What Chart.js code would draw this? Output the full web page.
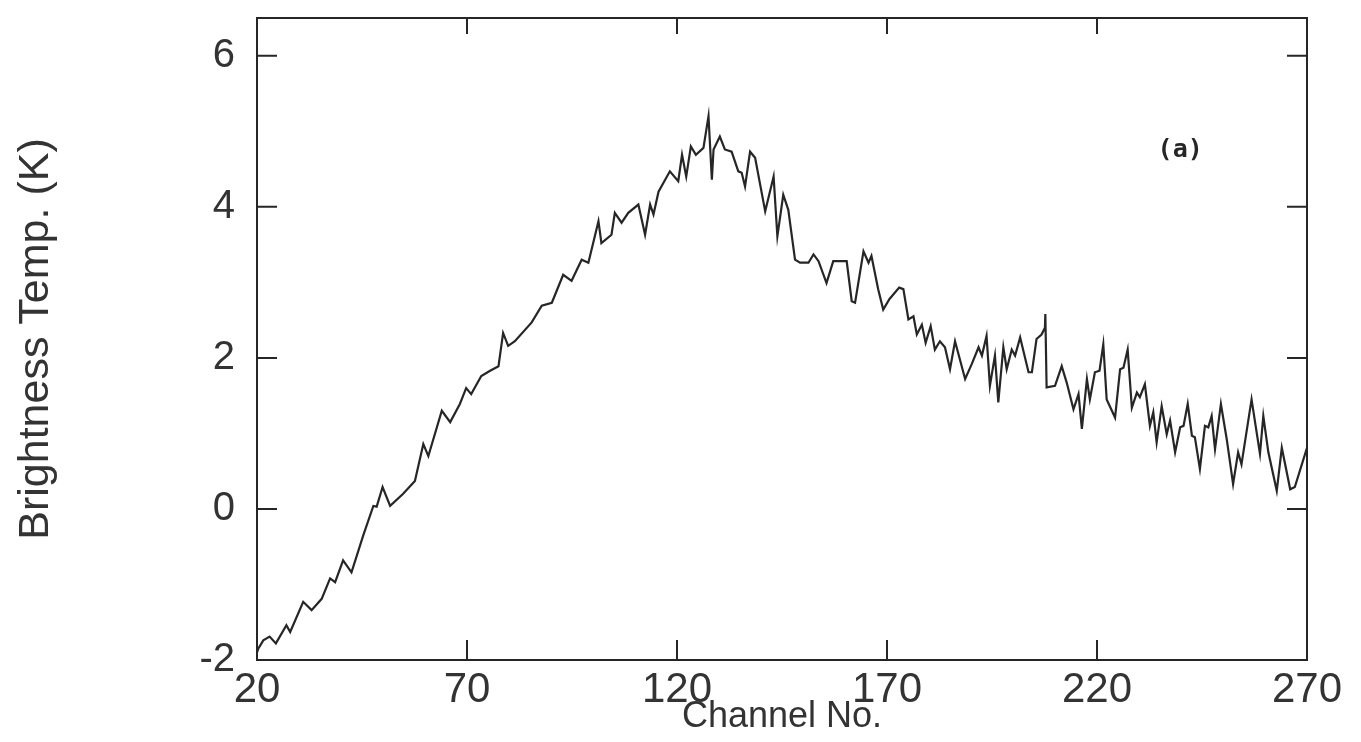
<!DOCTYPE html>
<html>
<head>
<meta charset="utf-8">
<title>Brightness temperature vs channel</title>
<script src="https://cdn.jsdelivr.net/npm/chart.js@4.4.1/dist/chart.umd.min.js"></script>
<style>
  html, body { margin: 0; padding: 0; background: #fff; }
  canvas { display: block; }
</style>
</head>
<body>
<canvas id="spectrumChart" width="1361" height="742"></canvas>
<script>
// channel numbers and brightness temperatures (K)
var channels = [
  20, 20.3, 21.5, 23, 24.5, 27, 27.9, 31, 33, 35.4, 37.4, 38.6, 40.5, 42.5, 45.3, 47.7, 48.5, 49.9, 51.7, 54.8,
  57.6, 59.6, 60.8, 64, 66, 68.3, 69.8, 71, 73.4, 75.5, 77.5, 78.6, 79.8, 81.4, 85.4, 87.8, 90.2, 92.9, 94.9, 97.3,
  98.9, 101.3, 102, 104.4, 105.2, 106.8, 108.4, 110.8, 112.4, 113.6, 114.4, 115.6, 118.3, 120.3, 121.2, 122.2, 123.3, 124.5, 126.3, 127.5,
  128.3, 128.7, 130.2, 131.4, 133, 134.6, 135.4, 136.2, 137.4, 138.6, 141, 143, 143.9, 145.3, 146.5, 148.1, 149.3, 151.3, 152.5, 153.7,
  155.6, 157.2, 160.4, 161.6, 162.4, 164.4, 165.6, 166.3, 167.9, 169.1, 170.6, 172.9, 173.9, 175.1, 176.3, 177.1, 178.3, 179.2, 180.4, 181.4,
  182.6, 183.8, 185, 186.2, 188.6, 190.2, 191.8, 192.6, 193.7, 194.5, 195.7, 196.5, 197.7, 198.5, 199.7, 200.5, 201.7, 203.7, 204.5, 205.6,
  206.8, 207.6, 207.7, 208, 210, 211.6, 212.8, 214.4, 215.6, 216.4, 217.6, 218.3, 219.5, 220.6, 221.5, 222.3, 224.3, 225.5, 226.3, 227.3,
  228.3, 229.5, 230.2, 231.4, 232.6, 233.4, 234.2, 235.4, 236.6, 237.4, 238.6, 239.8, 240.6, 241.6, 242.6, 243.3, 244.5, 245.7, 246.5, 247.3,
  248.1, 249.5, 250.9, 252.4, 253.6, 254.4, 256.8, 258.8, 259.6, 260.8, 262.8, 264, 266, 267.1, 270
];
var temps = [
  -1.9, -1.85, -1.74, -1.69, -1.78, -1.54, -1.63, -1.23, -1.34, -1.19, -0.92, -0.97, -0.68, -0.84, -0.35, 0.04, 0.03, 0.29, 0.04, 0.2,
  0.37, 0.86, 0.7, 1.3, 1.15, 1.39, 1.6, 1.52, 1.76, 1.83, 1.89, 2.33, 2.16, 2.22, 2.47, 2.69, 2.73, 3.1, 3.02, 3.3,
  3.26, 3.81, 3.52, 3.63, 3.92, 3.79, 3.92, 4.03, 3.63, 4.03, 3.9, 4.2, 4.47, 4.34, 4.69, 4.4, 4.8, 4.69, 4.78, 5.2,
  4.36, 4.76, 4.93, 4.76, 4.73, 4.47, 4.45, 4.27, 4.73, 4.65, 3.94, 4.4, 3.61, 4.16, 3.96, 3.3, 3.26, 3.26, 3.37, 3.28,
  2.99, 3.28, 3.28, 2.75, 2.73, 3.41, 3.26, 3.35, 2.91, 2.64, 2.78, 2.93, 2.91, 2.51, 2.55, 2.31, 2.44, 2.2, 2.42, 2.11,
  2.22, 2.14, 1.85, 2.22, 1.72, 1.92, 2.14, 2.03, 2.29, 1.63, 2.03, 1.41, 2.14, 1.85, 2.11, 2.03, 2.27, 1.81, 1.81, 2.25,
  2.31, 2.4, 2.58, 1.61, 1.63, 1.89, 1.67, 1.32, 1.52, 1.06, 1.72, 1.45, 1.81, 1.83, 2.18, 1.45, 1.21, 1.85, 1.87, 2.11,
  1.34, 1.54, 1.48, 1.65, 1.1, 1.28, 0.88, 1.36, 0.99, 1.17, 0.75, 1.08, 1.1, 1.39, 0.97, 0.95, 0.53, 1.1, 1.08, 1.23,
  0.79, 1.39, 0.92, 0.33, 0.75, 0.59, 1.45, 0.73, 1.23, 0.75, 0.24, 0.81, 0.26, 0.29, 0.81
];
var xTicks = [20, 70, 120, 170, 220, 270];
var yTicks = [-2, 0, 2, 4, 6];

var inkColor = '#262626';
var labelFont = '"Liberation Sans", Arial, sans-serif';

// box round the plot, with the little inward ticks on all four sides and the panel tag
var framePlugin = {
    id: 'frame',
    afterDraw: function (chart) {
        var ctx = chart.ctx;
        var area = chart.chartArea;
        var xs = chart.scales.x;
        var ys = chart.scales.y;
        ctx.save();
        ctx.strokeStyle = inkColor;
        ctx.lineWidth = 2;
        ctx.strokeRect(area.left, area.top, area.right - area.left, area.bottom - area.top);
        ctx.beginPath();
        yTicks.forEach(function (v) {
            if (v === ys.min) return;
            var py = ys.getPixelForValue(v);
            ctx.moveTo(area.left, py);
            ctx.lineTo(area.left + 20, py);
            ctx.moveTo(area.right, py);
            ctx.lineTo(area.right - 20, py);
        });
        xTicks.forEach(function (v) {
            if (v === xs.min || v === xs.max) return;
            var px = xs.getPixelForValue(v);
            ctx.moveTo(px, area.bottom);
            ctx.lineTo(px, area.bottom - 20);
            ctx.moveTo(px, area.top);
            ctx.lineTo(px, area.top + 16);
        });
        ctx.stroke();

        ctx.fillStyle = inkColor;
        ctx.font = 'bold 25px "DejaVu Sans Mono", monospace';
        ctx.textAlign = 'center';
        ctx.textBaseline = 'middle';
        ctx.fillText('(a)', xs.getPixelForValue(239.8), ys.getPixelForValue(4.75));
        ctx.restore();
    }
};

var ctx = document.getElementById('spectrumChart');
var spectrumChart = new Chart(ctx, {
    type: 'line',
    data: {
        datasets: [{
            data: channels.map(function (c, i) { return { x: c, y: temps[i] }; }),
            borderColor: inkColor,
            borderWidth: 2.2,
            pointRadius: 0,
            tension: 0,
            fill: false
        }]
    },
    options: {
        responsive: false,
        animation: false,
        layout: {
            padding: { top: 18, right: 54, left: 0, bottom: 0 }
        },
        plugins: {
            legend: { display: false },
            tooltip: { enabled: false }
        },
        scales: {
            x: {
                type: 'linear',
                min: 20,
                max: 270,
                afterBuildTicks: function (scale) {
                    scale.ticks = xTicks.map(function (v) { return { value: v }; });
                },
                afterFit: function (scale) {
                    scale.height = 82;
                    scale.paddingLeft = 0;
                    scale.paddingRight = 0;
                },
                grid: { display: false, drawTicks: false },
                border: { display: false },
                ticks: {
                    autoSkip: false,
                    maxRotation: 0,
                    padding: 5,
                    color: '#333',
                    font: { family: labelFont, size: 42 }
                },
                title: {
                    display: true,
                    text: 'Channel No.',
                    color: '#333',
                    padding: { top: 0, bottom: 3 },
                    font: { family: labelFont, size: 36 }
                }
            },
            y: {
                type: 'linear',
                min: -2,
                max: 6.5,
                afterBuildTicks: function (scale) {
                    scale.ticks = yTicks.map(function (v) { return { value: v }; });
                },
                afterFit: function (scale) {
                    scale.width = 257;
                    scale.paddingTop = 0;
                    scale.paddingBottom = 0;
                },
                grid: { display: false, drawTicks: false },
                border: { display: false },
                ticks: {
                    padding: 22,
                    color: '#333',
                    font: { family: labelFont, size: 40 }
                },
                title: {
                    display: true,
                    text: 'Brightness Temp. (K)',
                    color: '#333',
                    padding: { top: 10, bottom: 0 },
                    font: { family: labelFont, size: 43 }
                }
            }
        }
    },
    plugins: [framePlugin]
});
</script>
</body>
</html>
